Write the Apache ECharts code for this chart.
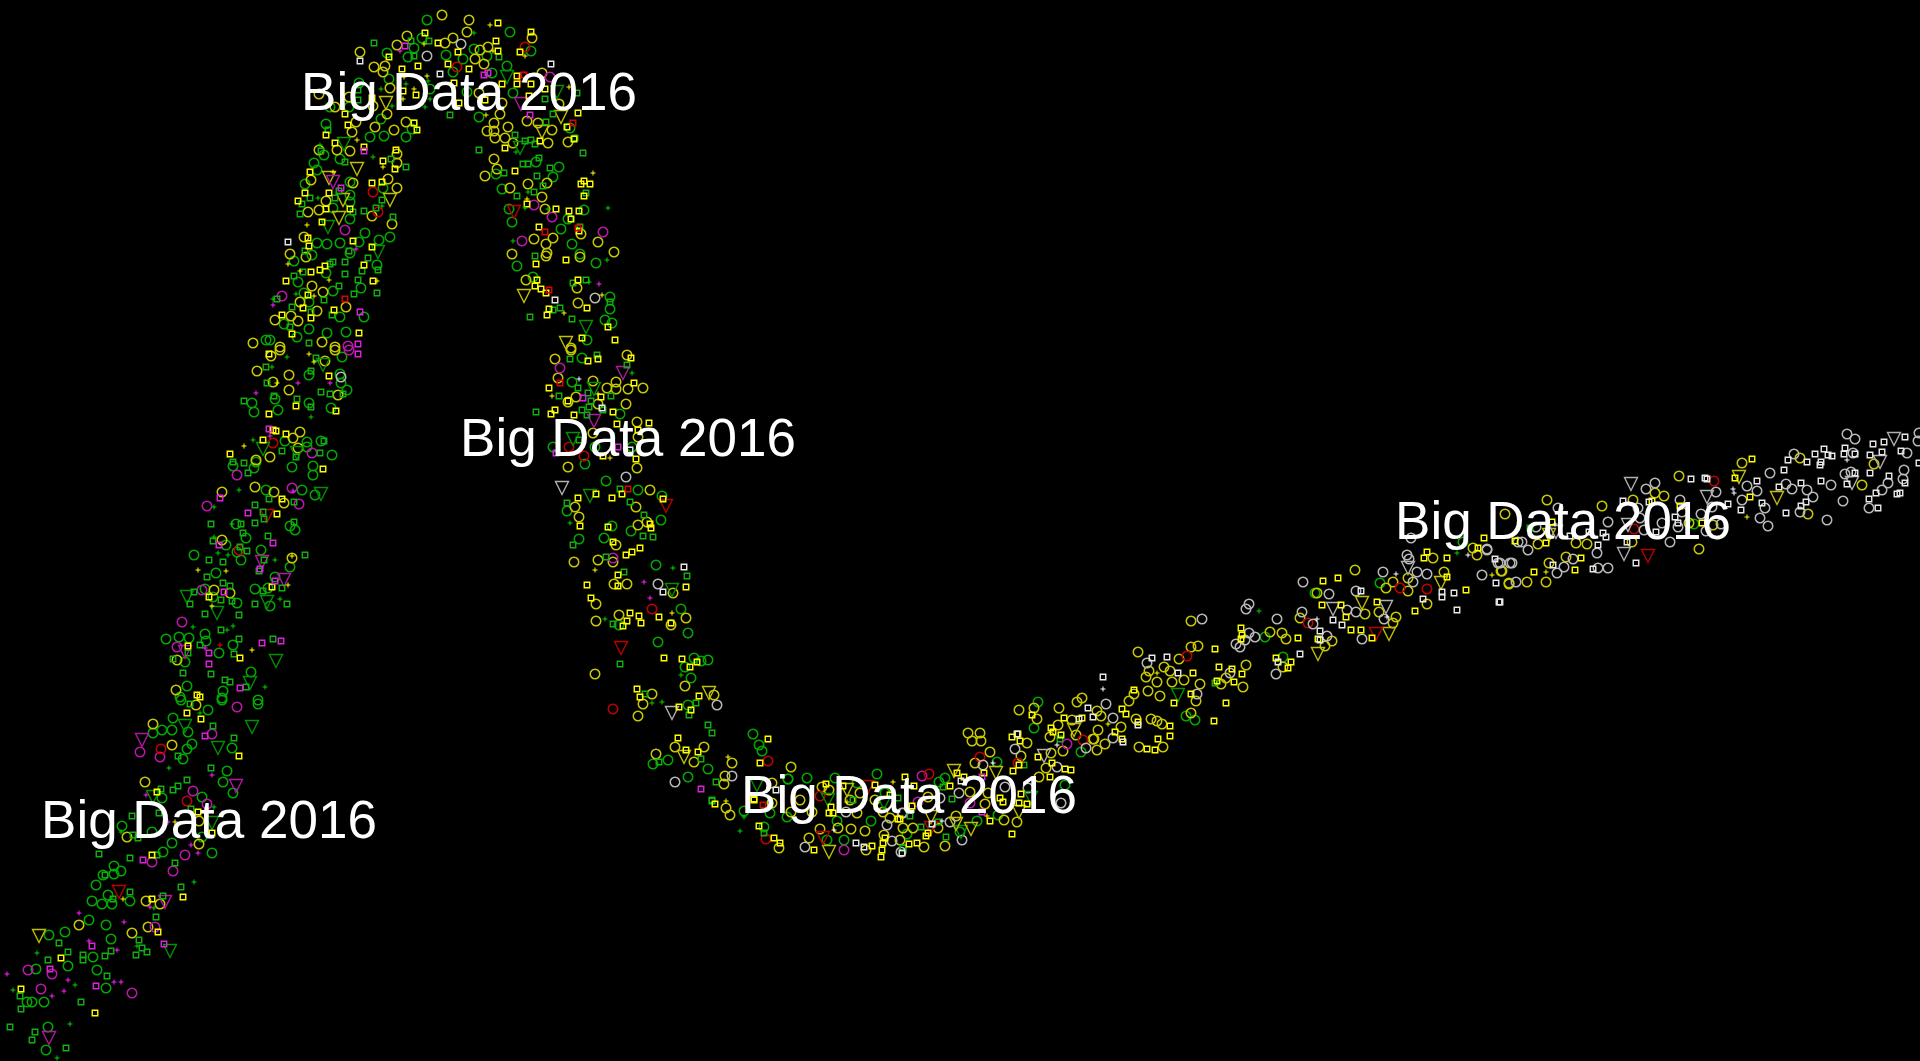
<!DOCTYPE html>
<html><head><meta charset="utf-8">
<style>html,body{margin:0;padding:0;background:#000;width:100%;height:100%;overflow:hidden}#c{width:1920px;height:1061px}</style>
<script src="https://cdn.jsdelivr.net/npm/echarts@6/dist/echarts.min.js"></script>
</head><body><div id="c"></div>
<script>
const circleGreen=[[208,710],[173,718],[162,730],[172,730],[153,733],[188,732],[192,744],[187,749],[183,759],[232,748],[227,771],[223,782],[233,793],[202,797],[162,798],[122,826],[152,832],[172,843],[202,837],[163,852],[212,853],[114,866],[121,871],[103,875],[114,874],[96,885],[108,895],[92,901],[102,904],[112,904],[130,901],[89,920],[106,925],[65,932],[49,935],[111,939],[93,957],[68,966],[97,970],[36,969],[106,988],[44,1002],[32,1002],[27,1002],[48,1027],[46,1050],[258,704],[222,700],[181,700],
[342,357],[309,375],[340,374],[341,383],[347,390],[252,403],[275,399],[309,403],[254,412],[278,410],[331,408],[285,441],[307,442],[321,441],[307,447],[332,455],[256,462],[233,466],[254,468],[292,467],[313,466],[313,475],[266,490],[302,490],[315,495],[236,524],[290,526],[295,530],[246,538],[226,545],[194,555],[237,552],[261,550],[241,560],[290,567],[216,573],[275,577],[255,589],[268,588],[205,589],[213,597],[237,603],[270,606],[166,639],[179,637],[189,638],[205,634],[206,641],[233,645],[219,653],[185,662],[251,672],[187,686],[223,691],[180,697],[222,698],[258,700],
[427,20],[510,32],[422,38],[414,48],[387,53],[408,57],[446,55],[463,59],[474,49],[531,51],[487,56],[507,66],[453,72],[492,73],[389,79],[359,83],[430,89],[467,92],[513,93],[330,107],[349,107],[381,119],[479,117],[326,124],[370,137],[384,136],[406,137],[412,129],[570,128],[324,155],[314,163],[340,159],[317,170],[305,184],[350,182],[536,162],[559,167],[553,177],[502,189],[496,174],[383,188],[350,195],[350,202],[333,208],[350,219],[509,209],[512,222],[561,229],[365,233],[390,237],[359,242],[379,240],[317,243],[327,244],[340,243],[350,253],[312,255],[294,261],[377,265],[517,266],[572,244],[580,254],[596,263],[326,273],[298,282],[361,288],[333,291],[304,293],[309,302],[533,277],[340,317],[364,317],[309,329],[284,324],[327,333],[346,332],[297,337],[610,297],[610,309],[605,320],[612,323],[587,340],[568,219],[584,210],[270,340],[266,340],
[582,358],[572,382],[620,414],[553,447],[585,464],[606,481],[638,490],[662,496],[567,511],[661,520],[612,526],[631,531],[579,539],[604,538],[656,565],[681,609],[688,633],[658,642],[694,658],[708,660],[701,661],[685,667],[691,678],[688,705],[753,734],[759,745],[762,751],[668,760],[653,764],[688,777],[708,769],[788,779],[632,447],[595,447],[619,625],
[744,811],[764,827],[770,813],[787,817],[807,778],[835,778],[877,774],[857,783],[837,821],[844,840],[827,840],[871,821],[885,793],[788,779],
[1038,702],[1034,728],[997,762],[977,821],[945,778],[939,782],[907,834],[1081,752],[1065,785],[998,815],[960,832],
[1186,716],[1195,720],[1265,637],[1283,657],[1315,593],[1380,583],[1694,524],[1463,542]];
const circleYellow=[[153,724],[196,705],[172,745],[145,782],[199,821],[127,837],[199,844],[146,901],[160,904],[148,927],[132,933],[79,925],
[280,350],[335,350],[271,356],[325,361],[257,371],[289,375],[273,382],[289,390],[338,395],[300,432],[293,438],[298,448],[270,457],[256,460],[222,492],[255,487],[274,492],[284,503],[222,540],[292,558],[214,590],[230,593],[177,660],[176,690],[253,343],
[442,15],[469,20],[467,32],[407,36],[397,45],[453,38],[445,43],[532,38],[360,52],[480,50],[475,59],[484,64],[488,47],[374,67],[385,66],[383,72],[542,73],[390,88],[319,94],[349,97],[373,106],[335,107],[387,114],[502,103],[479,93],[500,114],[356,122],[406,122],[394,130],[375,127],[352,132],[527,121],[538,123],[559,104],[552,130],[494,123],[487,131],[494,131],[508,127],[505,138],[495,138],[513,143],[548,143],[568,142],[337,150],[350,151],[319,150],[397,154],[397,163],[494,159],[497,169],[485,176],[311,180],[353,183],[388,179],[397,188],[528,184],[547,183],[510,188],[542,197],[326,201],[308,212],[319,210],[545,209],[372,216],[392,224],[304,237],[534,239],[553,238],[581,234],[598,242],[290,254],[306,257],[546,244],[512,254],[547,253],[546,256],[580,257],[614,252],[526,280],[312,286],[323,292],[577,288],[346,307],[300,302],[317,311],[578,303],[275,320],[291,316],[298,321],[322,342],[335,347],[280,347],[571,348],
[571,350],[555,359],[627,355],[558,378],[593,381],[616,382],[607,388],[628,389],[643,388],[616,389],[576,397],[568,402],[598,404],[626,404],[637,422],[638,437],[593,433],[568,467],[637,468],[650,490],[575,507],[636,507],[579,517],[638,525],[647,522],[616,545],[574,562],[598,560],[613,562],[614,584],[627,584],[673,593],[596,604],[619,615],[596,621],[671,625],[686,618],[595,674],[685,686],[652,694],[643,704],[714,695],[638,716],[675,747],[704,747],[656,754],[694,762],[732,763],[725,776],[724,784],[791,767],[772,783],
[726,808],[730,815],[779,848],[791,812],[772,803],[809,838],[820,829],[838,828],[851,829],[865,831],[822,787],[829,790],[800,800],[850,800],[857,813],[812,812],[884,835],[890,818],[866,850],[860,793],[875,800],[883,812],
[1019,710],[1034,708],[1037,719],[1059,708],[1082,698],[1077,702],[1058,725],[1072,720],[1050,737],[1076,735],[968,733],[980,733],[972,741],[981,741],[990,752],[975,763],[1027,743],[1021,756],[1063,751],[1051,753],[1046,768],[1039,777],[988,793],[985,804],[1004,820],[1017,822],[903,828],[913,828],[945,846],[924,847],[938,828],[956,816],[970,792],[1093,739],[900,840],[928,797],
[1138,652],[1191,621],[1179,659],[1191,647],[1198,646],[1149,671],[1146,677],[1164,667],[1170,671],[1157,682],[1172,682],[1184,680],[1200,684],[1148,691],[1134,694],[1129,701],[1160,696],[1196,701],[1191,713],[1097,711],[1101,716],[1136,719],[1151,719],[1157,721],[1162,724],[1121,727],[1098,730],[1094,739],[1105,744],[1139,747],[1163,747],[1097,750],[1246,665],[1243,687],[1226,678],[1221,684],[1270,632],[1282,633],[1286,639],[1300,618],[1325,646],[1332,641],[1355,570],[1317,593],[1365,614],[1379,612],[1396,617],[1393,623],[1386,588],[1393,582],[1408,591],[1408,578],[1427,604],[1433,558],[1444,572],[1477,555],[1501,571],[1509,583],[1283,667],
[1547,500],[1602,506],[1633,500],[1679,476],[1742,463],[1655,493],[1664,496],[1505,514],[1538,544],[1576,543],[1587,544],[1632,542],[1566,557],[1549,563],[1527,582],[1546,582],[1509,584],[1699,549],[1808,514],[1800,458],[1862,485],[1874,464],[1689,523],[1713,525],[1502,571],[1473,548]];
const circleMagenta=[[237,707],[212,734],[140,752],[160,757],[193,791],[207,804],[185,855],[152,862],[173,871],[155,927],[28,970],[52,974],[41,989],[132,993],[237,475],[312,453],[292,488],[299,504],[207,506],[202,590],[182,622],[177,647],[349,350],[282,296],[345,230],[603,232],[552,217],[534,205],[522,241],[348,346],[550,77],[560,368],[613,558],[844,850],[922,776],[1067,744],[970,803],[918,802]];
const circleRed=[[161,749],[187,801],[273,443],[239,550],[525,47],[457,67],[373,192],[378,212],[523,77],[569,447],[584,456],[652,609],[613,709],[768,761],[766,839],[820,796],[929,774],[980,757],[1083,740],[1018,763],[1187,656],[1308,623],[1400,588],[1427,589],[1714,481],[1634,529]];
const circleWhite=[[341,377],[427,56],[461,44],[595,298],[626,477],[658,584],[717,705],[675,782],[732,776],[805,847],[846,812],[887,825],[892,841],[901,852],[903,813],
[1015,749],[983,765],[959,793],[1005,787],[940,798],[950,822],[962,840],[1086,748],[1057,767],[1028,788],[1061,803],[902,813],
[1106,704],[1113,718],[1113,738],[1197,694],[1147,663],[1230,673],[1276,674],[1202,619],[1246,609],[1249,604],[1277,619],[1249,633],[1255,637],[1236,644],[1240,647],[1245,640],[1302,612],[1303,582],[1329,594],[1347,610],[1356,612],[1356,591],[1313,624],[1327,636],[1362,639],[1384,619],[1383,572],[1413,582],[1417,572],[1427,574],[1407,555],[1409,559],[1482,575],[1498,563],[1510,563],[1487,550],[1411,538],[1487,549],[1518,542],
[1847,434],[1855,439],[1919,433],[1918,441],[1907,453],[1853,453],[1794,454],[1770,473],[1747,486],[1757,491],[1742,500],[1765,508],[1760,518],[1768,526],[1786,484],[1792,489],[1807,490],[1813,497],[1831,485],[1843,501],[1800,512],[1827,520],[1845,474],[1851,472],[1869,508],[1882,490],[1888,483],[1903,479],[1904,470],[1655,483],[1646,489],[1716,492],[1680,500],[1712,507],[1701,514],[1608,522],[1558,508],[1670,542],[1662,523],[1678,527],[1644,530],[1706,531],[1721,524],[1640,518],[1638,508],[1597,553],[1598,568],[1608,568],[1573,559],[1564,567],[1557,573],[1516,582],[1512,563],[1528,550],[1522,542],[1536,527],[1682,512],[1500,563]];
const squareGreen=[[190,704],[213,726],[234,738],[178,756],[211,768],[187,780],[178,786],[173,790],[161,789],[191,809],[159,813],[132,816],[138,838],[133,835],[99,854],[130,858],[157,855],[175,863],[105,875],[181,887],[130,892],[113,899],[163,896],[156,917],[139,940],[59,943],[68,952],[48,960],[83,955],[83,960],[105,956],[111,951],[142,948],[147,952],[136,955],[107,976],[20,996],[21,1009],[81,1002],[10,1027],[35,1032],[32,1040],[66,1048],
[316,358],[266,367],[311,371],[267,383],[321,392],[330,394],[244,401],[274,396],[297,399],[311,407],[343,394],[324,441],[282,451],[320,453],[296,457],[244,463],[233,462],[248,473],[269,499],[294,502],[255,505],[263,512],[264,519],[255,523],[241,524],[211,524],[294,522],[243,533],[268,536],[213,541],[240,547],[247,551],[209,560],[223,562],[264,560],[305,555],[259,571],[207,577],[223,583],[230,586],[282,588],[263,591],[194,592],[221,600],[232,601],[190,604],[255,604],[287,604],[205,614],[239,615],[221,630],[239,639],[273,639],[200,645],[234,654],[188,653],[173,659],[183,673],[211,674],[225,680],[230,682],[246,687],
[374,43],[411,41],[429,41],[414,56],[499,57],[358,90],[358,100],[450,115],[553,114],[545,99],[577,93],[546,122],[414,123],[328,130],[515,135],[525,141],[531,140],[535,144],[575,138],[479,150],[583,153],[321,151],[345,162],[391,159],[406,167],[523,164],[528,164],[539,158],[550,168],[504,173],[537,176],[543,186],[339,191],[310,198],[302,204],[300,214],[335,198],[534,192],[517,196],[382,200],[586,193],[376,208],[364,211],[353,212],[393,217],[580,227],[305,251],[349,251],[368,258],[345,262],[333,262],[330,264],[535,256],[378,270],[362,271],[345,274],[303,272],[294,276],[358,280],[339,286],[354,294],[377,293],[324,300],[277,299],[292,307],[311,312],[332,315],[290,327],[309,343],[573,283],[586,280],[610,302],[560,308],[530,317],[572,319],[553,310],
[570,359],[597,355],[627,365],[578,388],[536,412],[559,396],[611,396],[588,393],[591,401],[582,410],[587,415],[589,407],[603,410],[579,440],[620,489],[567,503],[630,502],[644,515],[643,536],[653,537],[573,545],[606,557],[624,572],[687,576],[613,624],[620,664],[645,694],[696,703],[689,715],[708,725],[712,733],[659,762],[701,759],[716,782],[712,800],
[764,833],[712,801],[853,800],[898,798],[903,848],[1024,765],[1060,739],[952,799],[921,827],[946,837],[943,787],[903,848],[910,816],[938,822],[1215,683],[1530,528]];
const squareYellow=[[187,713],[201,719],[239,756],[157,792],[198,812],[212,833],[152,855],[183,897],[152,899],[158,932],[61,958],[21,989],[95,1013],
[269,354],[329,376],[336,411],[296,406],[269,414],[273,430],[276,431],[286,434],[263,440],[230,454],[323,469],[282,499],[277,514],[209,597],[272,587],[188,646],[240,658],[197,695],[200,697],
[498,23],[531,32],[425,33],[438,43],[496,41],[498,51],[520,52],[458,52],[389,57],[418,66],[448,64],[402,69],[469,69],[517,76],[517,84],[531,84],[545,89],[502,84],[403,91],[454,83],[416,95],[372,98],[459,103],[485,100],[529,96],[345,114],[578,113],[348,125],[414,123],[417,130],[567,127],[326,135],[540,141],[574,139],[505,148],[335,143],[364,147],[396,150],[383,161],[395,169],[515,171],[310,172],[372,183],[382,182],[584,181],[581,184],[590,184],[584,196],[305,193],[329,193],[298,201],[527,204],[326,209],[350,209],[556,209],[569,211],[579,211],[571,219],[539,227],[579,231],[322,222],[308,238],[309,246],[353,241],[372,247],[320,270],[325,266],[311,272],[364,265],[566,260],[536,264],[286,281],[373,281],[537,280],[535,286],[541,289],[546,293],[578,280],[308,295],[303,308],[587,308],[282,315],[311,318],[334,310],[549,309],[547,315],[292,334],[359,333],[608,327],[582,338],[615,340],
[588,361],[598,359],[631,358],[549,388],[634,383],[568,401],[555,410],[551,414],[601,397],[574,415],[613,412],[617,424],[649,423],[636,459],[578,498],[596,494],[612,498],[622,494],[663,499],[580,526],[608,527],[650,524],[651,528],[613,542],[626,555],[632,552],[640,548],[618,575],[618,586],[587,585],[686,587],[591,598],[630,613],[639,616],[627,621],[641,623],[623,626],[659,617],[671,623],[664,658],[682,659],[697,662],[690,667],[637,689],[640,697],[699,696],[679,707],[691,710],[678,738],[686,750],[698,752],[768,739],[760,763],[754,799],[603,456],[638,430],
[715,804],[759,826],[774,838],[780,843],[754,800],[814,850],[826,784],[843,786],[875,785],[831,807],[833,813],[829,813],[890,795],[898,819],[872,846],[881,857],[882,850],[883,843],[885,838],
[1032,715],[1018,734],[1012,737],[1020,741],[1064,718],[1082,718],[1051,728],[1053,732],[1061,735],[1038,757],[1052,763],[1065,769],[1071,770],[1050,777],[1013,771],[1019,765],[984,773],[957,773],[964,777],[950,786],[905,777],[914,786],[1021,794],[1019,803],[1027,804],[1000,798],[1003,802],[990,821],[1012,834],[909,844],[917,843],[926,836],[928,833],[912,806],[900,819],
[1215,649],[1219,667],[1232,669],[1193,673],[1217,681],[1234,682],[1242,674],[1191,694],[1174,703],[1226,703],[1214,721],[1170,726],[1170,736],[1158,739],[1122,709],[1126,714],[1138,722],[1115,732],[1122,739],[1147,749],[1155,750],[1134,690],[1241,628],[1242,635],[1241,639],[1276,658],[1291,662],[1288,668],[1298,638],[1318,639],[1322,605],[1323,581],[1338,578],[1341,605],[1346,617],[1351,630],[1361,630],[1372,638],[1377,602],[1415,611],[1466,590],[1447,558],[1424,558],[1447,577],[1427,552],
[1752,459],[1735,478],[1750,497],[1534,572],[1575,570],[1581,558],[1546,543],[1515,541],[1552,522],[1680,506],[1702,523],[1652,501],[1484,538],[1478,548]];
const squareMagenta=[[205,736],[143,860],[164,944],[92,946],[50,969],[96,986],[358,354],[269,429],[220,498],[248,513],[273,543],[219,545],[260,569],[275,581],[224,592],[262,643],[281,641],[209,653],[209,664],[240,688],[405,46],[484,75],[488,73],[530,115],[364,151],[341,188],[360,312],[358,344],[583,398],[701,789],[618,447],[556,453],[982,777],[982,812]];
const squareRed=[[573,123],[545,232],[578,228],[549,290],[345,299],[524,75],[560,383],[628,489],[763,805]];
const squareWhite=[[360,61],[440,74],[551,64],[288,242],[555,300],[684,567],[663,592],[602,408],[776,790],[630,450],[856,843],[864,847],[1017,734],[1088,708],[1079,719],[961,781],[932,824],[902,853],
[1103,677],[1093,717],[1123,742],[1138,725],[1152,658],[1167,657],[1178,673],[1278,662],[1300,654],[1320,631],[1333,620],[1342,625],[1320,640],[1361,591],[1442,592],[1442,597],[1454,593],[1457,610],[1423,599],[1496,583],[1499,602],[1495,559],
[1691,479],[1705,478],[1707,479],[1623,501],[1649,502],[1675,517],[1678,523],[1728,504],[1741,510],[1757,481],[1762,503],[1779,487],[1786,513],[1784,470],[1788,460],[1807,462],[1815,454],[1824,449],[1828,455],[1832,456],[1821,462],[1820,465],[1845,448],[1844,454],[1855,454],[1873,444],[1884,442],[1905,437],[1882,452],[1870,455],[1901,451],[1919,463],[1855,473],[1870,473],[1847,484],[1821,481],[1801,483],[1806,502],[1801,506],[1889,476],[1905,483],[1876,493],[1869,499],[1878,508],[1897,494],[1900,493],[1606,537],[1598,545],[1589,532],[1570,536],[1603,533],[1627,542],[1636,563],[1656,532],[1553,565],[1593,569],[1500,602]];
const triangleGreen=[[185,726],[252,727],[218,748],[212,823],[153,797],[170,951],[323,365],[263,449],[297,453],[321,494],[187,597],[267,602],[217,613],[276,661],[250,683],[344,144],[507,77],[557,92],[520,148],[328,227],[378,252],[586,327],[594,389],[573,439],[590,496],[672,590],[757,785],[828,800],[884,803],[961,832],[1031,798],[1178,695]];
const triangleYellow=[[39,936],[386,103],[561,117],[542,132],[357,169],[329,178],[343,200],[390,200],[339,218],[524,296],[566,343],[709,693],[684,757],[829,852],[847,790],[954,771],[996,773],[1019,812],[971,829],[956,824],[931,817],[1074,730],[1362,603],[1389,634],[1318,654],[1441,583],[1739,477],[1777,498],[1549,535]];
const triangleMagenta=[[142,740],[236,786],[165,902],[49,1038],[262,562],[284,580],[185,652],[521,104],[333,182],[623,373],[594,421]];
const triangleRed=[[119,892],[267,516],[514,212],[666,506],[621,648],[823,838],[868,787],[931,828],[1376,634],[1648,556]];
const triangleWhite=[[562,488],[672,713],[1044,756],[1333,609],[1386,607],[1408,568],[1631,484],[1707,497],[1624,554],[1628,525],[1880,462],[1852,483],[1894,439],[1556,532]];
const plusGreen=[[200,713],[169,768],[214,807],[121,832],[194,882],[154,908],[137,946],[37,953],[75,985],[13,990],[70,1024],[57,1058],[287,357],[272,367],[311,417],[253,440],[239,490],[214,507],[232,524],[214,537],[218,553],[228,555],[275,560],[280,599],[193,627],[233,626],[227,630],[265,687],[474,33],[428,81],[406,84],[381,89],[430,99],[425,107],[392,106],[320,145],[373,157],[318,198],[382,206],[525,208],[528,192],[548,209],[608,208],[513,241],[607,260],[296,294],[273,299],[516,152],[589,282],[632,373],[570,523],[673,568],[605,619],[681,675],[652,703],[662,702],[625,448],[740,831],[744,817],[1259,611],[1457,553]];
const plusYellow=[[175,822],[123,899],[309,354],[314,362],[277,383],[244,446],[198,570],[226,571],[292,556],[212,606],[288,585],[252,650],[490,25],[424,44],[525,56],[404,77],[427,76],[414,89],[403,99],[486,115],[357,140],[383,167],[333,172],[593,173],[569,87],[527,199],[307,225],[288,264],[300,271],[329,280],[377,281],[314,296],[602,295],[564,313],[493,51],[552,396],[598,394],[610,458],[595,570],[672,613],[728,757],[726,801],[847,802],[893,782],[987,816],[1157,673],[1108,724],[1492,575],[1747,517],[1546,572]];
const plusMagenta=[[212,775],[146,795],[168,822],[191,845],[198,853],[150,907],[79,913],[124,922],[89,941],[117,950],[7,974],[68,980],[114,982],[121,982],[64,991],[52,996],[298,383],[330,383],[256,393],[270,436],[293,491],[205,648],[400,51],[356,249],[599,284],[273,305],[644,582],[650,598]];
const plusRed=[[220,645]];
const plusWhite=[[579,379],[834,830],[1057,745],[993,763],[942,821],[1103,689],[1317,619],[1396,574],[1387,617],[1468,555],[1733,489],[1734,493],[1847,460],[1555,524]];
const captionText='Big Data 2016';
const captionCentres=[[209,823],[469,95],[628,441],[909,798],[1563,524]];

const PLUS='path://M2 0H3V2H5V3H3V5H2V3H0V2H2Z';
const CIRCLE={g:'#00a800',y:'#c8c800',m:'#b818a8',r:'#c00000',w:'#b8b8b8'};
const SQUARE={g:'#10b010',y:'#ffff00',m:'#e020e0',r:'#e00000',w:'#e8e8e8'};
const TRI={g:'#009000',y:'#c0c000',m:'#b018a0',r:'#b80000',w:'#b0b0b0'};
const PL={g:'#00d000',y:'#ffff00',m:'#ff20ff',r:'#ff0000',w:'#ffffff'};
function hollow(name,data,symbol,size,color,bw,rot){return {name,type:'scatter',data,symbol,symbolSize:size,symbolRotate:rot||0,silent:true,itemStyle:{color:'rgba(0,0,0,0)',borderColor:color,borderWidth:bw,opacity:1}}}
function solid(name,data,color){return {name,type:'scatter',data,symbol:PLUS,symbolSize:5,silent:true,itemStyle:{color,opacity:1}}}
const series=[
 hollow('circleGreen',circleGreen,'circle',9.5,CIRCLE.g,1.5),
 hollow('circleYellow',circleYellow,'circle',9.5,CIRCLE.y,1.5),
 hollow('circleMagenta',circleMagenta,'circle',9.5,CIRCLE.m,1.5),
 hollow('circleRed',circleRed,'circle',9.5,CIRCLE.r,1.5),
 hollow('circleWhite',circleWhite,'circle',9.5,CIRCLE.w,1.5),
 hollow('triangleGreen',triangleGreen,'triangle',13,TRI.g,1.4,180),
 hollow('triangleYellow',triangleYellow,'triangle',13,TRI.y,1.4,180),
 hollow('triangleMagenta',triangleMagenta,'triangle',13,TRI.m,1.4,180),
 hollow('triangleRed',triangleRed,'triangle',13,TRI.r,1.4,180),
 hollow('triangleWhite',triangleWhite,'triangle',13,TRI.w,1.4,180),
 hollow('squareGreen',squareGreen,'rect',5.5,SQUARE.g,1.4),
 hollow('squareYellow',squareYellow,'rect',5.5,SQUARE.y,1.4),
 hollow('squareMagenta',squareMagenta,'rect',5.5,SQUARE.m,1.4),
 hollow('squareRed',squareRed,'rect',5.5,SQUARE.r,1.4),
 hollow('squareWhite',squareWhite,'rect',5.5,SQUARE.w,1.4),
 solid('plusGreen',plusGreen,PL.g),solid('plusYellow',plusYellow,PL.y),solid('plusMagenta',plusMagenta,PL.m),solid('plusRed',plusRed,PL.r),solid('plusWhite',plusWhite,PL.w),
 {name:'captions',type:'scatter',z:20,silent:true,data:captionCentres,symbolSize:1,itemStyle:{color:'rgba(0,0,0,0)',opacity:1},
  label:{show:true,formatter:captionText,position:'inside',align:'center',verticalAlign:'middle',color:'#ffffff',opacity:1,fontFamily:'Liberation Sans, Arial, sans-serif',fontSize:53}}
];
const chart=echarts.init(document.getElementById('c'),null,{renderer:'canvas'});
chart.setOption({backgroundColor:'#000',animation:false,tooltip:{show:false},legend:{show:false},
 grid:{left:0,right:0,top:0,bottom:0},
 xAxis:{type:'value',min:0,max:1920,show:false},
 yAxis:{type:'value',min:0,max:1061,inverse:true,show:false},
 series});
</script></body></html>
